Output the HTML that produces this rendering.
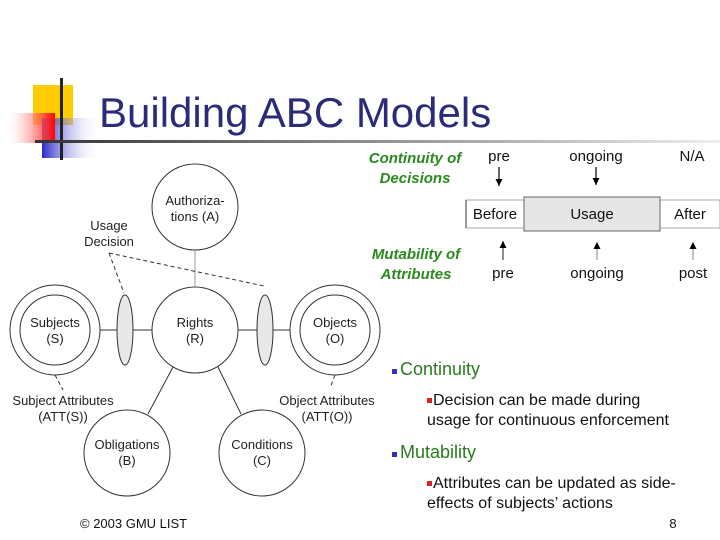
<!DOCTYPE html>
<html><head><meta charset="utf-8"><style>
body{margin:0;width:720px;height:540px;background:#fff;overflow:hidden;font-family:"Liberation Sans",sans-serif}
svg{position:absolute;left:0;top:0}
</style></head><body>
<svg width="720" height="540" viewBox="0 0 720 540">
<defs>
<linearGradient id="tl" x1="0" x2="1"><stop offset="0" stop-color="#333"/><stop offset="1" stop-color="#eee"/></linearGradient>
<linearGradient id="red" x1="0" x2="1"><stop offset="0" stop-color="#fff" stop-opacity="0.3"/><stop offset="1" stop-color="#f00"/></linearGradient>
<linearGradient id="blu" x1="0" x2="1"><stop offset="0" stop-color="#2a2ac8"/><stop offset="1" stop-color="#fff" stop-opacity="0"/></linearGradient>
<marker id="ar" markerWidth="8" markerHeight="8" refX="7" refY="3.5" orient="auto" markerUnits="userSpaceOnUse"><path d="M0,0 L7,3.5 L0,7 Z" fill="#000"/></marker>
</defs>
<rect x="33" y="85" width="40" height="40" fill="#ffcc00"/>
<rect x="42" y="118" width="58" height="40" fill="url(#blu)"/>
<rect x="10" y="113" width="45" height="30" fill="url(#red)"/>
<rect x="60" y="78" width="3" height="82" fill="#222"/>
<rect x="35" y="140" width="685" height="3" fill="url(#tl)"/>
<text x="99" y="127" font-size="42" fill="#2b2b7a">Building ABC Models</text>

<g fill="none" stroke="#333" stroke-width="1">
<circle cx="195" cy="207" r="43"/>
<circle cx="195" cy="330" r="43"/>
<circle cx="55" cy="330" r="45"/><circle cx="55" cy="330" r="35"/>
<circle cx="335" cy="330" r="45"/><circle cx="335" cy="330" r="35"/>
<circle cx="127" cy="453" r="43"/>
<circle cx="262" cy="453" r="43"/>
<line x1="195" y1="250" x2="195" y2="287" stroke="#999"/>
<line x1="100" y1="330" x2="152" y2="330"/>
<line x1="238" y1="330" x2="290" y2="330"/>
<line x1="173" y1="367" x2="148" y2="414"/>
<line x1="218" y1="367" x2="241" y2="414"/>
<g stroke-dasharray="4,3"><line x1="109" y1="253" x2="124" y2="293"/><line x1="109" y1="253" x2="264" y2="286"/>
<line x1="55" y1="375" x2="63" y2="390"/><line x1="335" y1="375" x2="330" y2="388"/></g>
</g>
<ellipse cx="125" cy="330" rx="8" ry="35" fill="#e8e8e8" stroke="#333"/>
<ellipse cx="265" cy="330" rx="8" ry="35" fill="#e8e8e8" stroke="#333"/>
<g font-size="13" fill="#222" text-anchor="middle">
<text x="195" y="205">Authoriza-</text><text x="195" y="221">tions (A)</text>
<text x="109" y="230">Usage</text><text x="109" y="246">Decision</text>
<text x="195" y="327">Rights</text><text x="195" y="343">(R)</text>
<text x="55" y="327">Subjects</text><text x="55" y="343">(S)</text>
<text x="335" y="327">Objects</text><text x="335" y="343">(O)</text>
<text x="63" y="405">Subject Attributes</text><text x="63" y="421">(ATT(S))</text>
<text x="327" y="405">Object Attributes</text><text x="327" y="421">(ATT(O))</text>
<text x="127" y="449">Obligations</text><text x="127" y="465">(B)</text>
<text x="262" y="449">Conditions</text><text x="262" y="465">(C)</text>
</g>

<g font-size="15" font-weight="bold" font-style="italic" fill="#2a8a1e" text-anchor="middle">
<text x="415" y="163">Continuity of</text><text x="415" y="183">Decisions</text>
<text x="416" y="259">Mutability of</text><text x="416" y="279">Attributes</text>
</g>
<g font-size="15" fill="#111" text-anchor="middle">
<text x="499" y="161">pre</text><text x="596" y="161">ongoing</text><text x="692" y="161">N/A</text>
<text x="503" y="278">pre</text><text x="597" y="278">ongoing</text><text x="693" y="278">post</text>
</g>
<g stroke="#000" stroke-width="1.2">
<line x1="499" y1="167" x2="499" y2="186" marker-end="url(#ar)"/>
<line x1="596" y1="167" x2="596" y2="185" marker-end="url(#ar)"/>
<line x1="503" y1="260" x2="503" y2="241" marker-end="url(#ar)" stroke="#444"/>
<line x1="597" y1="260" x2="597" y2="242" marker-end="url(#ar)" stroke="#999"/>
<line x1="693" y1="260" x2="693" y2="242" marker-end="url(#ar)" stroke="#999"/>
</g>
<rect x="466" y="200" width="58" height="28" fill="#fff" stroke="#aaa"/>
<line x1="466" y1="200" x2="466" y2="228" stroke="#333"/>
<rect x="660" y="200" width="60" height="28" fill="#fff" stroke="#aaa"/>
<rect x="524" y="197" width="136" height="34" fill="#e6e6e6" stroke="#666"/>
<g font-size="15" fill="#111" text-anchor="middle">
<text x="495" y="219">Before</text><text x="592" y="219">Usage</text><text x="690" y="219">After</text>
</g>

<rect x="392" y="369" width="5" height="5" fill="#3333bb"/>
<text x="400" y="375" font-size="18" fill="#2a7a1e">Continuity</text>
<rect x="427" y="398" width="5" height="5" fill="#dd2222"/>
<text x="433" y="405" font-size="16" fill="#111">Decision can be made during</text>
<text x="427" y="425" font-size="16" fill="#111">usage for continuous enforcement</text>
<rect x="392" y="452" width="5" height="5" fill="#3333bb"/>
<text x="400" y="458" font-size="18" fill="#2a7a1e">Mutability</text>
<rect x="427" y="481" width="5" height="5" fill="#dd2222"/>
<text x="433" y="488" font-size="16" fill="#111">Attributes can be updated as side-</text>
<text x="427" y="508" font-size="16" fill="#111">effects of subjects’ actions</text>
<text x="673" y="528" font-size="13" fill="#111" text-anchor="middle">8</text>
<text x="80" y="528" font-size="13" fill="#111">© 2003 GMU LIST</text>
</svg>
</body></html>
